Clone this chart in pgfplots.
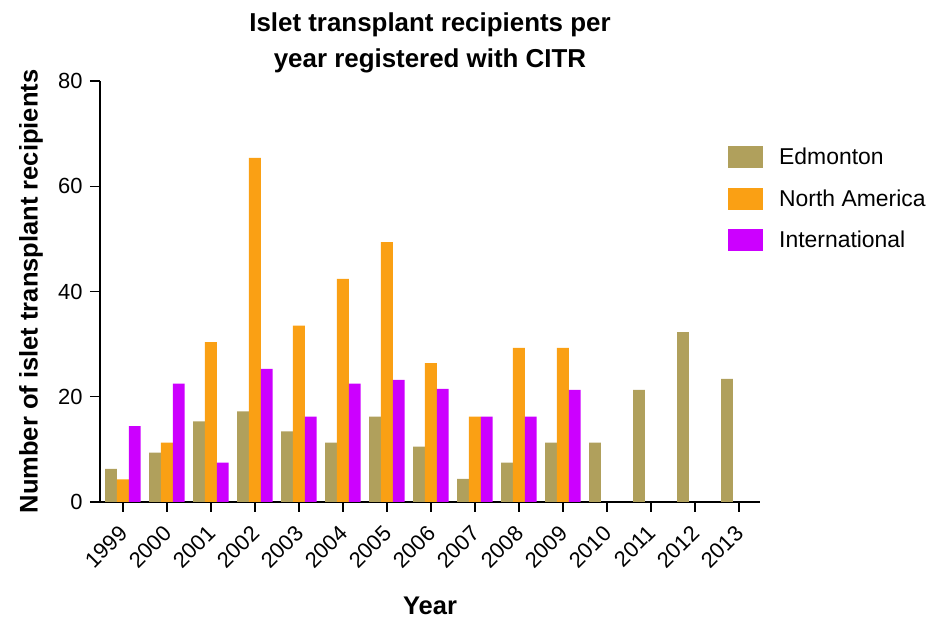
\documentclass[border=0pt]{standalone}
\usepackage{fontspec}
\setmainfont{Liberation Sans}
\usepackage{pgfplots}
\pgfplotsset{compat=1.18}
\definecolor{edm}{HTML}{B0A05C}
\definecolor{nam}{HTML}{FAA014}
\definecolor{intl}{HTML}{CC00FF}
\begin{document}
\begin{tikzpicture}
\begin{axis}[
  name=ax,
  at={(0,0)}, anchor=south west,
  scale only axis, width=660bp, height=421bp,
  xmin=-0.52, xmax=14.48, ymin=0, ymax=80,
  axis x line*=bottom, axis y line*=left,
  axis line style={line width=1.3bp, -, black},
  tick align=outside, major tick length=10bp,
  tick style={line width=1.3bp, black},
  ytick={0,20,40,60,80},
  xtick={0,...,14},
  xticklabels={1999,2000,2001,2002,2003,2004,2005,2006,2007,2008,2009,2010,2011,2012,2013},
  /pgf/number format/assume math mode=true,
  tick label style={font=\fontsize{22}{26}\selectfont},
  x tick label style={xshift=3bp, yshift=-15bp, rotate=45, anchor=east},
  y tick label style={xshift=-4bp},
  ybar, bar width=0.27,
  title={Islet transplant recipients per\\year registered with CITR},
  title style={font=\bfseries\fontsize{26}{36}\selectfont, align=center, at={(axis description cs:0.5,1)}, anchor=south, inner sep=0bp, yshift=2bp},
  ylabel={Number of islet transplant recipients},
  ylabel style={font=\bfseries\fontsize{25.6}{30}\selectfont, at={(axis description cs:-0.1045,0.5)}, anchor=center},
  xlabel={Year},
  xlabel style={font=\bfseries\fontsize{25.6}{30}\selectfont, at={(axis description cs:0.5,-0.247)}, anchor=center},
  legend image code/.code={\fill[#1,draw=none] (0bp,-11bp) rectangle (35bp,11bp); \path (51bp,0bp);},
  legend cell align=left,
  legend style={draw=none, fill=none, at={(axis description cs:0.9515,0.846)}, anchor=north west, inner sep=0bp, row sep=19.5bp, font=\fontsize{23}{27}\selectfont, nodes={inner sep=0bp}},
]
\addplot[fill=edm, draw=none, bar shift=-0.27] coordinates {
(0,6.3) (1,9.4) (2,15.3) (3,17.2) (4,13.4) (5,11.3) (6,16.2) (7,10.5) (8,4.4) (9,7.5) (10,11.3) (11,11.3) (12,21.3) (13,32.3) (14,23.4)};
\addlegendentry{Edmonton}
\addplot[fill=nam, draw=none, bar shift=0] coordinates {
(0,4.3) (1,11.3) (2,30.4) (3,65.4) (4,33.5) (5,42.4) (6,49.4) (7,26.4) (8,16.2) (9,29.3) (10,29.3)};
\addlegendentry{North America}
\addplot[fill=intl, draw=none, bar shift=0.27] coordinates {
(0,14.4) (1,22.5) (2,7.5) (3,25.3) (4,16.2) (5,22.5) (6,23.2) (7,21.5) (8,16.2) (9,16.2) (10,21.3)};
\addlegendentry{International}
\end{axis}
\path[use as bounding box] ([xshift=-100bp,yshift=-116bp]ax.south west) rectangle ([xshift=167bp,yshift=81bp]ax.north east);
\end{tikzpicture}
\end{document}
